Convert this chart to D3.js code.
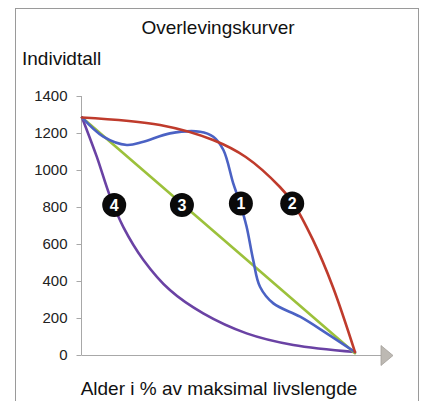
<!DOCTYPE html>
<html><head><meta charset="utf-8">
<script src="https://cdn.jsdelivr.net/npm/d3@7"></script>
<style>
html,body{margin:0;padding:0;background:#fff;}
svg{display:block;font-family:"Liberation Sans",Arial,sans-serif;}
</style></head>
<body>
<svg id="c" width="423" height="401"></svg>
<script>
const title = "Overlevingskurver";
const yTitle = "Individtall";
const xTitle = "Alder i % av maksimal livslengde";
const yTicks = [0, 200, 400, 600, 800, 1000, 1200, 1400];

// x = alder (% av maksimal livslengde), y = individtall
const curve1X = [0, 7.8, 16.4, 22.5, 32.2, 43.2, 48.1, 51.8, 55.4, 57.9, 60.3, 62.7, 65.2, 70.1, 79.9, 89.6, 100];
const curve1Y = [1284, 1180, 1135, 1153, 1198, 1207, 1180, 1108, 928, 820, 693, 514, 369, 279, 207, 117, 16];
const curve2X = [0, 28.6, 48, 60, 72.5, 77.3, 84.6, 91.9, 100];
const curve2Y = [1284, 1243, 1162, 1070, 908, 822, 622, 368, 16];
const curve3X = [0, 100];
const curve3Y = [1284, 10];
const curve4X = [0, 5.4, 10.3, 15.1, 22.5, 32.2, 44.4, 60.3, 77.4, 100];
const curve4Y = [1284, 1072, 856, 693, 514, 351, 225, 117, 54, 16];

const labelNames = ["4", "3", "1", "2"];
const labelX = [11.8, 36.6, 58.2, 77.0];
const labelY = [811, 811, 819, 819];

const colors = {"1": "#4b62c4", "2": "#bf3b2c", "3": "#9cc13b", "4": "#6a42a4"};

const svg = d3.select("#c");
// frame
svg.append("rect").attr("x", 15.5).attr("y", 8.5).attr("width", 403).attr("height", 399)
  .attr("fill", "none").attr("stroke", "#9a9a9a").attr("stroke-width", 1);

const x = d3.scaleLinear().domain([0, 100]).range([82, 355]);
const y = d3.scaleLinear().domain([0, 1400]).range([355, 96]);

svg.append("text").attr("x", 218).attr("y", 34).attr("text-anchor", "middle")
  .attr("font-size", 19).attr("fill", "#111").text(title);
svg.append("text").attr("x", 22).attr("y", 65)
  .attr("font-size", 19).attr("fill", "#111").text(yTitle);
svg.append("text").attr("x", 219).attr("y", 395).attr("text-anchor", "middle")
  .attr("font-size", 19).attr("fill", "#111").text(xTitle);

// y axis
const yAxis = d3.axisLeft(y).tickValues(yTicks).tickSize(5).tickPadding(9).tickFormat(d3.format("d"));
const ga = svg.append("g").attr("transform", "translate(81.5,0)").call(yAxis);
ga.select(".domain").attr("stroke", "#a8a8a8").attr("d", "M-0,96V355");
ga.selectAll(".tick line").attr("stroke", "#a8a8a8");
ga.selectAll(".tick text").attr("font-size", 15).attr("fill", "#222")
  .attr("font-family", "Liberation Sans, Arial, sans-serif");

// x axis line with arrow
svg.append("line").attr("x1", 81.5).attr("x2", 381).attr("y1", 355.5).attr("y2", 355.5)
  .attr("stroke", "#a8a8a8").attr("stroke-width", 1.2);
svg.append("path").attr("d", "M381,345.5L393,355.5L381,365.5Z")
  .attr("fill", "#bdb9b3").attr("stroke", "#a39f99").attr("stroke-width", 0.8);

const line = d3.line().x(d => x(d[0])).y(d => y(d[1])).curve(d3.curveCatmullRom.alpha(0.5));
const series = [
  ["4", curve4X, curve4Y],
  ["3", curve3X, curve3Y],
  ["1", curve1X, curve1Y],
  ["2", curve2X, curve2Y]
];
series.forEach(([k, xs, ys]) => {
  svg.append("path").datum(xs.map((v, i) => [v, ys[i]]))
    .attr("d", line).attr("fill", "none").attr("stroke", colors[k])
    .attr("stroke-width", 2.6).attr("stroke-linecap", "round");
});

// labels
labelNames.forEach((n, i) => {
  const g = svg.append("g").attr("transform", `translate(${x(labelX[i])},${y(labelY[i])})`);
  g.append("circle").attr("r", 12).attr("fill", "#0a0a0a");
  g.append("text").attr("y", 6).attr("text-anchor", "middle").attr("font-size", 16)
    .attr("font-weight", "bold").attr("fill", "#fff").text(n);
});
</script>
</body></html>
